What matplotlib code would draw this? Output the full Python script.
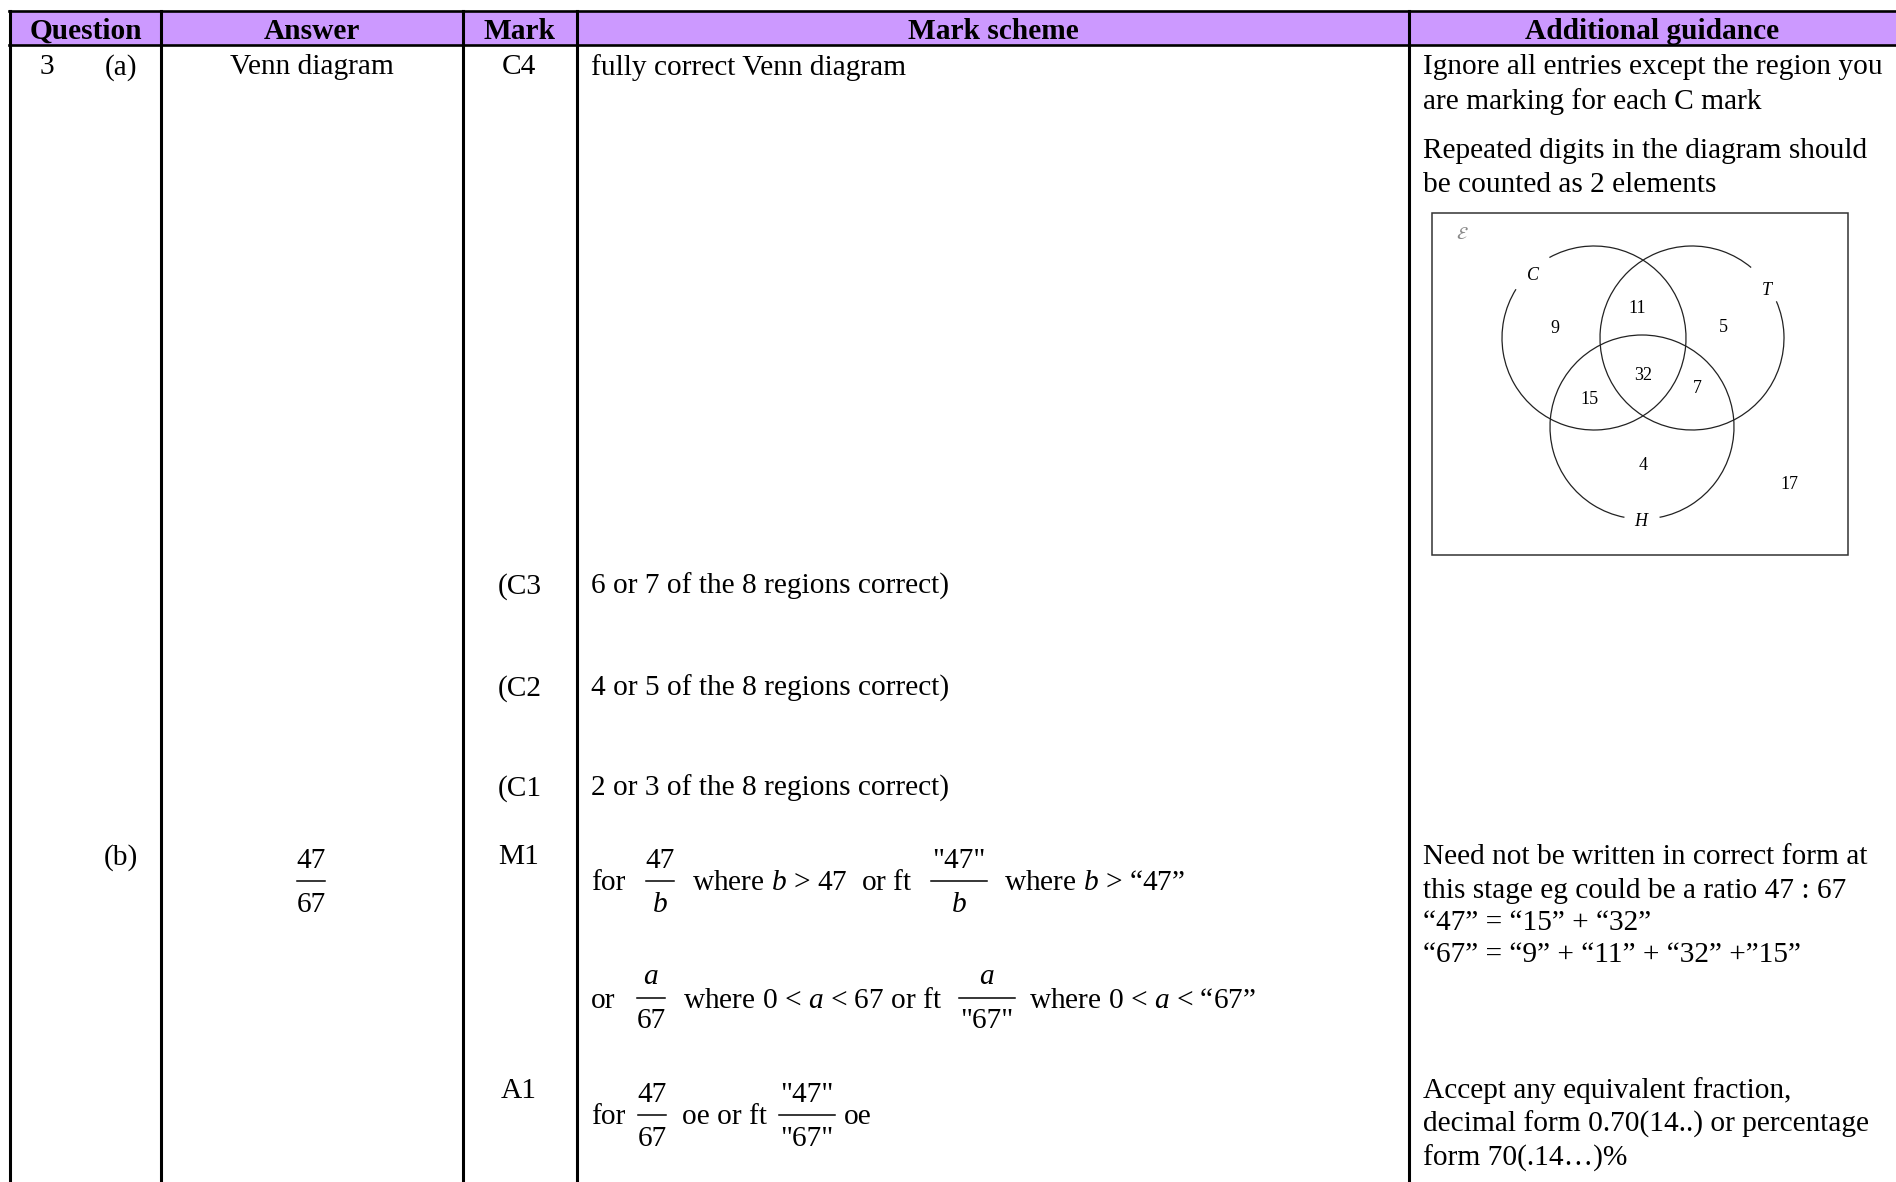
import numpy as np
import matplotlib.pyplot as plt
from matplotlib.patches import Rectangle, Arc

plt.rcParams['font.family'] = ['Liberation Serif', 'DejaVu Serif', 'DejaVu Sans']
plt.rcParams['mathtext.fontset'] = 'custom'
plt.rcParams['mathtext.rm'] = 'Liberation Serif'
plt.rcParams['mathtext.it'] = 'Liberation Serif:italic'

W, H = 1896, 1182
FS = 21.2
DY = 2.5  # small baseline nudge

# table content
headers = ["Question", "Answer", "Mark", "Mark scheme", "Additional guidance"]
col_edges = [10, 161, 463, 577, 1409, 1896]

marks_a = ["C4", "(C3", "(C2", "(C1"]
scheme_a = ["fully correct Venn diagram",
            "6 or 7 of the 8 regions correct)",
            "4 or 5 of the 8 regions correct)",
            "2 or 3 of the 8 regions correct)"]
guidance_a = ["Ignore all entries except the region you",
              "are marking for each C mark",
              "Repeated digits in the diagram should",
              "be counted as 2 elements"]
guidance_b1 = ["Need not be written in correct form at",
               "this stage eg could be a ratio 47 : 67",
               "\u201c47\u201d = \u201c15\u201d + \u201c32\u201d",
               "\u201c67\u201d = \u201c9\u201d + \u201c11\u201d + \u201c32\u201d +\u201d15\u201d"]
guidance_b2 = ["Accept any equivalent fraction,",
               "decimal form 0.70(14..) or percentage",
               "form 70(.14\u2026)%"]

# venn diagram values: C only, C&T only, T only, C&H only, all three, T&H only, H only, outside
venn_sets = ["C", "T", "H"]
venn_counts = [9, 11, 5, 15, 32, 7, 4, 17]

fig = plt.figure(figsize=(W / 100, H / 100), dpi=100)
ax = fig.add_axes([0, 0, 1, 1])
ax.set_xlim(0, W)
ax.set_ylim(H, 0)
ax.axis('off')

# header
ax.add_patch(Rectangle((col_edges[0], 11), W - col_edges[0], 34, facecolor='#CC99FF', edgecolor='none'))
ax.plot([col_edges[0] - 1, W], [11, 11], color='black', lw=1.9)
ax.plot([col_edges[0] - 1, W], [45, 45], color='black', lw=1.9)
for x in col_edges[:-1]:
    ax.plot([x, x], [11, H], color='black', lw=2.2)
for i, h in enumerate(headers):
    ax.text((col_edges[i] + col_edges[i + 1]) / 2, 29 + DY, h, fontsize=FS, fontweight='bold',
            ha='center', va='center')


def txt(x, y, s, ha='left', **kw):
    ax.text(x, y + DY, s, fontsize=kw.pop('fontsize', FS), ha=ha, va='center', **kw)


def frac(xc, y, num, den, half):
    txt(xc, y - 22, num, ha='center')
    txt(xc, y + 22, den, ha='center')
    ax.plot([xc - half, xc + half], [y + 1, y + 1], color='black', lw=1.1)


# part (a)
txt(47, 65, "3", ha='center')
txt(121, 65, "(a)", ha='center')
txt(312, 65, "Venn diagram", ha='center')
for m, s, y in zip(marks_a, scheme_a, [65, 584, 686, 786]):
    if m.startswith("("):
        txt(498, y, m)
    else:
        txt(519, y, m, ha='center')
    txt(591, y, s)
for s, y in zip(guidance_a, [65, 99, 149, 183]):
    txt(1423, y, s)

# venn diagram
ax.add_patch(Rectangle((1432, 213), 416, 342, facecolor='none', edgecolor='#333333', lw=1.1))
circles = {"C": (1594, 338), "T": (1692, 338), "H": (1642, 427)}
gaps = {"C": (-119, 212), "T": (-23.5, 310), "H": (101, 439)}
for name in venn_sets:
    ax.add_patch(Arc(circles[name], 184, 184, theta1=gaps[name][0], theta2=gaps[name][1],
                     color='#222222', lw=0.9))
label_pos = {"C": (1533, 273), "T": (1767, 288), "H": (1641, 519)}
for name in venn_sets:
    txt(*label_pos[name], name, ha='center', fontsize=13, style='italic')
count_pos = [(1555, 326), (1637, 306), (1723, 325), (1589, 397),
             (1643, 373), (1697, 386), (1643, 463), (1789, 482)]
for (x, y), c in zip(count_pos, venn_counts):
    txt(x, y, str(c), ha='center', fontsize=13)
txt(1462, 232, r"$\mathcal{E}$", ha='center', fontsize=13, color='#888888',
    math_fontfamily='stix')

# part (b)
txt(121, 855, "(b)", ha='center')
frac(311, 880, "47", "67", 14)
txt(519, 854, "M1", ha='center')

txt(591, 881, "for")
frac(660, 880, "47", "$b$", 14)
txt(692, 881, "where $b$ > 47  or ft")
frac(959, 880, "\"47\"", "$b$", 28)
txt(1004, 881, "where $b$ > \u201c47\u201d")

txt(591, 998, "or")
frac(651, 997, "$a$", "67", 14)
txt(683, 998, "where 0 < $a$ < 67 or ft")
frac(987, 997, "$a$", "\"67\"", 28)
txt(1029, 998, "where 0 < $a$ < \u201c67\u201d")

txt(519, 1088, "A1", ha='center')
txt(591, 1115, "for")
frac(652, 1114, "47", "67", 14)
txt(682, 1115, "oe or ft")
frac(807, 1114, "\"47\"", "\"67\"", 28)
txt(844, 1115, "oe")

for s, y in zip(guidance_b1, [854, 888, 921, 952]):
    txt(1423, y, s)
for s, y in zip(guidance_b2, [1088, 1122, 1156]):
    txt(1423, y, s)

fig.savefig("out.png", dpi=100)
